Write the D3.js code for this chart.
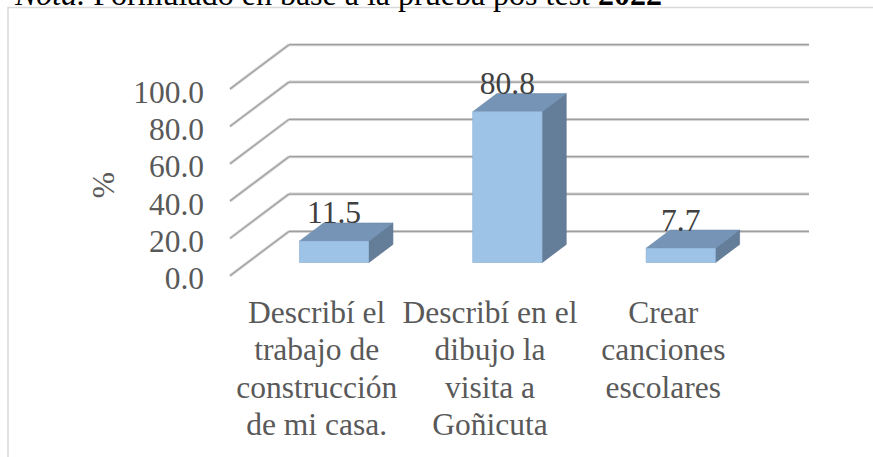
<!DOCTYPE html>
<html><head><meta charset="utf-8">
<script src="https://cdn.jsdelivr.net/npm/d3@7"></script>
<style>html,body{margin:0;padding:0;background:#fff;overflow:hidden}</style>
</head><body>
<svg id="c" width="873" height="457"></svg>
<script>
const categories = [
  ["Describí el","trabajo de","construcción","de mi casa."],
  ["Describí en el","dibujo la","visita a","Goñicuta"],
  ["Crear","canciones","escolares"]
];
const values = [11.5, 80.8, 7.7];
const yTicks = [0, 20, 40, 60, 80, 100];
const yTickLabels = ["0.0","20.0","40.0","60.0","80.0","100.0"];
const axisTitle = "%";
const titleParts = [["Nota.","italic","normal"],[" Formulado en base a la prueba pos test ","normal","normal"],["2022","normal","bold"]];

const svg = d3.select("#c");
const FONT = "'Liberation Serif','Times New Roman',serif";
const FS = 31.5;

// border
svg.append("rect").attr("x",8).attr("y",7.5).attr("width",900).attr("height",500)
  .attr("fill","none").attr("stroke","#d9d9d9").attr("stroke-width",1.5);

// title
const t = svg.append("text").attr("x",15).attr("y",5).attr("font-family",FONT).attr("font-size",32).attr("fill","#000");
titleParts.forEach(p=>t.append("tspan").text(p[0]).attr("font-style",p[1]).attr("font-weight",p[2]).attr("xml:space","preserve"));

// geometry
const x0 = 230, x1 = 750, base = 275.7;
const D = [59, -44.3];
const y = d3.scaleLinear().domain([0,100]).range([base, base-186.7]);
const xb = d3.scaleBand().domain(d3.range(categories.length)).range([x0,x1]).paddingInner(0.6).paddingOuter(0.3);

// side wall diagonals and back wall gridlines
const grid = svg.append("g");
yTicks.forEach(v=>{
  const yf = y(v), yb = y(v)+D[1];
  [["#d4d4d4",3],["#9e9e9e",1.2]].forEach(([c,w])=>{
    grid.append("line").attr("x1",x0).attr("y1",yf).attr("x2",x0+D[0]).attr("y2",yb)
      .attr("stroke",c).attr("stroke-width",w);
    grid.append("line").attr("x1",x0+D[0]).attr("y1",yb).attr("x2",x1+D[0]).attr("y2",yb)
      .attr("stroke",c).attr("stroke-width",w);
  });
});

// y tick labels
svg.append("g").selectAll("text").data(yTicks).join("text")
  .attr("x",204).attr("y",v=>y(v)+13.7).attr("text-anchor","end")
  .attr("font-family",FONT).attr("font-size",FS).attr("fill","#595959")
  .text((v,i)=>yTickLabels[i]);

// axis title
svg.append("text").attr("transform","translate(103,185) rotate(-90)")
  .attr("text-anchor","middle").attr("dominant-baseline","central")
  .attr("font-family",FONT).attr("font-size",FS).attr("fill","#595959").text(axisTitle);

// bars
const f0 = 0.295, f1 = 0.705;
const bw = xb.bandwidth();
const dd = [(f1-f0)*D[0], (f1-f0)*D[1]];
const bars = svg.append("g");
values.forEach((v,i)=>{
  const x = xb(i) + f0*D[0];
  const yb = y(0) + f0*D[1];
  const yt = y(v) + f0*D[1];
  // side
  bars.append("path").attr("d",`M${x+bw},${yt}L${x+bw+dd[0]},${yt+dd[1]}L${x+bw+dd[0]},${yb+dd[1]}L${x+bw},${yb}Z`)
    .attr("fill","#647d99").attr("stroke","#5c7490").attr("stroke-width",0.6);
  // top
  bars.append("path").attr("d",`M${x},${yt}L${x+dd[0]},${yt+dd[1]}L${x+bw+dd[0]},${yt+dd[1]}L${x+bw},${yt}Z`)
    .attr("fill","#7594b6").attr("stroke","#6c8aab").attr("stroke-width",0.6);
  // front
  bars.append("rect").attr("x",x).attr("y",yt).attr("width",bw).attr("height",yb-yt)
    .attr("fill","#9dc3e6").attr("stroke","#8fb2d4").attr("stroke-width",0.6);
  // label
  bars.append("text").attr("x",x+bw/2).attr("y",yt+dd[1]+0.5).attr("text-anchor","middle")
    .attr("font-family",FONT).attr("font-size",FS).attr("fill","#404040").text(v.toFixed(1));
});

// category labels
const cl = svg.append("g");
categories.forEach((lines,i)=>{
  const cx = xb(i)+bw/2;
  const tx = cl.append("text").attr("text-anchor","middle").attr("font-family",FONT)
    .attr("font-size",FS).attr("fill","#595959");
  lines.forEach((l,j)=>tx.append("tspan").attr("x",cx).attr("y",322.7+j*37.4).text(l));
});
</script>
</body></html>
